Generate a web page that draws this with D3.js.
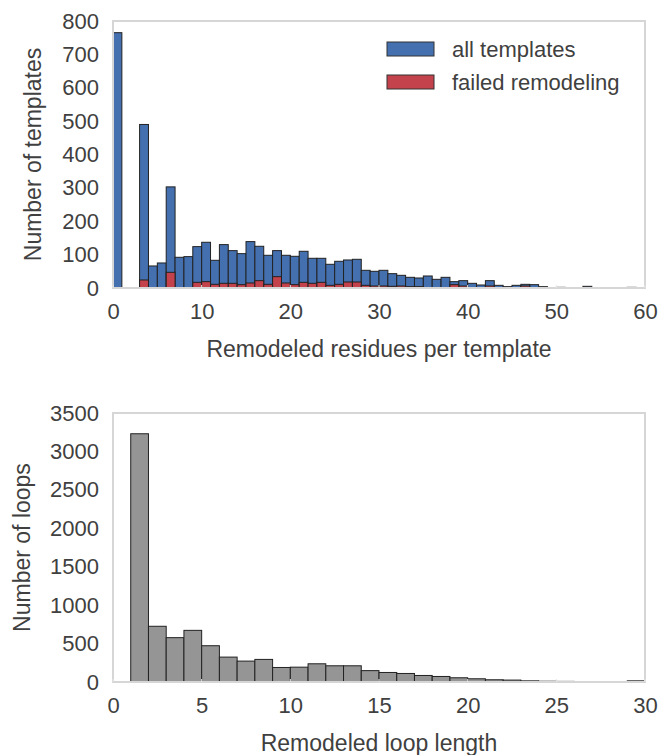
<!DOCTYPE html>
<html>
<head>
<meta charset="utf-8">
<script src="https://cdn.jsdelivr.net/npm/d3@7"></script>
<style>
  html, body { margin: 0; padding: 0; background: #fff; }
  svg { display: block; font-family: "Liberation Sans", Arial, sans-serif; }
</style>
</head>
<body>
<svg id="chart" width="662" height="755"></svg>
<script>
// ---------- Data ----------
// Top panel: bins of width 1 starting at 0 (residues per template)
const residueBins = d3.range(0, 60);
const allTemplates = [
  765, 0, 0, 490, 66, 75, 303, 92, 94, 124,
  137, 83, 130, 112, 103, 139, 125, 98, 112, 98,
  95, 110, 89, 89, 71, 80, 84, 86, 53, 50,
  53, 43, 38, 32, 30, 36, 26, 32, 19, 22,
  14, 9, 22, 8, 4, 8, 11, 10, 4, 0,
  2, 0, 1, 5, 0, 1, 1, 0, 2, 0
];
const failedRemodeling = [
  0, 0, 0, 24, 0, 0, 47, 0, 0, 17,
  19, 11, 14, 14, 10, 15, 22, 11, 34, 15,
  10, 17, 14, 17, 8, 11, 18, 18, 8, 6,
  6, 5, 6, 4, 4, 0, 0, 0, 10, 6,
  0, 0, 6, 0, 0, 0, 6, 0, 0, 0,
  0, 0, 0, 0, 0, 0, 0, 0, 0, 0
];
const topXTicks = [0, 10, 20, 30, 40, 50, 60];
const topYTicks = [0, 100, 200, 300, 400, 500, 600, 700, 800];

// Bottom panel: loop lengths, bins of width 1 starting at 1
const loopBins = d3.range(1, 30);
const loopCounts = [
  3230, 725, 577, 672, 472, 324, 272, 294, 189, 193,
  237, 211, 211, 148, 124, 111, 85, 72, 55, 42,
  29, 25, 15, 10, 8, 5, 5, 3, 15
];
const bottomXTicks = [0, 5, 10, 15, 20, 25, 30];
const bottomYTicks = [0, 500, 1000, 1500, 2000, 2500, 3000, 3500];

const seriesNames = ["all templates", "failed remodeling"];
const seriesColors = ["#4470b0", "#c4424b"];
const loopColor = "#959595";

// ---------- Layout ----------
const svg = d3.select("#chart");
const plotLeft = 113, plotRight = 645;
const textColor = "#404040";
const frameColor = "#d6d6d6";
const tickFont = 22, labelFont = 23, legendFont = 22;

function drawPanel(opts) {
  const g = svg.append("g");
  const x = d3.scaleLinear().domain(opts.xDomain).range([plotLeft, plotRight]);
  const y = d3.scaleLinear().domain(opts.yDomain).range([opts.bottom, opts.top]);

  opts.series.forEach(s => {
    g.append("g").selectAll("rect")
      .data(s.bins.map((b, i) => ({ b, v: s.values[i] })).filter(d => d.v > 0))
      .join("rect")
      .attr("x", d => x(d.b))
      .attr("width", d => x(d.b + 1) - x(d.b))
      .attr("y", d => y(d.v))
      .attr("height", d => y(0) - y(d.v))
      .attr("fill", s.color)
      .attr("stroke", "#222")
      .attr("stroke-width", 1);
  });

  g.append("rect")
    .attr("x", plotLeft).attr("y", opts.top)
    .attr("width", plotRight - plotLeft).attr("height", opts.bottom - opts.top)
    .attr("fill", "none").attr("stroke", frameColor).attr("stroke-width", 2);

  const xAxis = g.append("g")
    .attr("transform", `translate(0,${opts.bottom})`)
    .call(d3.axisBottom(x).tickValues(opts.xTicks).tickSize(0).tickPadding(15).tickFormat(d3.format("d")));
  xAxis.select(".domain").remove();
  xAxis.selectAll("text").attr("fill", textColor).style("font-size", tickFont + "px")
    .style("font-family", '"Liberation Sans", Arial, sans-serif');

  const yAxis = g.append("g")
    .attr("transform", `translate(${plotLeft},0)`)
    .call(d3.axisLeft(y).tickValues(opts.yTicks).tickSize(0).tickPadding(14).tickFormat(d3.format("d")));
  yAxis.select(".domain").remove();
  yAxis.selectAll("text").attr("fill", textColor).style("font-size", tickFont + "px")
    .style("font-family", '"Liberation Sans", Arial, sans-serif');

  g.append("g").selectAll("line").data(opts.xTicks).join("line")
    .attr("x1", d => x(d)).attr("x2", d => x(d))
    .attr("y1", opts.bottom).attr("y2", opts.bottom - 3)
    .attr("stroke", "#e6e6e6");

  g.append("text")
    .attr("x", (plotLeft + plotRight) / 2)
    .attr("y", opts.bottom + 69)
    .attr("text-anchor", "middle")
    .attr("fill", textColor)
    .style("font-size", labelFont + "px")
    .text(opts.xLabel);
  g.append("text")
    .attr("transform", `translate(${opts.yLabelX},${(opts.top + opts.bottom) / 2}) rotate(-90)`)
    .attr("text-anchor", "middle")
    .attr("fill", textColor)
    .style("font-size", labelFont + "px")
    .text(opts.yLabel);
  return { g, x, y };
}

drawPanel({
  top: 21, bottom: 288,
  xDomain: [0, 60], yDomain: [0, 800],
  xTicks: topXTicks, yTicks: topYTicks,
  series: [
    { bins: residueBins, values: allTemplates, color: seriesColors[0] },
    { bins: residueBins, values: failedRemodeling, color: seriesColors[1] }
  ],
  xLabel: "Remodeled residues per template",
  yLabel: "Number of templates",
  yLabelX: 41
});

drawPanel({
  top: 413, bottom: 682,
  xDomain: [0, 30], yDomain: [0, 3500],
  xTicks: bottomXTicks, yTicks: bottomYTicks,
  series: [{ bins: loopBins, values: loopCounts, color: loopColor }],
  xLabel: "Remodeled loop length",
  yLabel: "Number of loops",
  yLabelX: 30
});

const legend = svg.append("g").attr("transform", "translate(387,42)");
seriesNames.forEach((name, i) => {
  const row = legend.append("g").attr("transform", `translate(0,${i * 33})`);
  row.append("rect").attr("width", 47).attr("height", 14)
    .attr("fill", seriesColors[i]).attr("stroke", "#333").attr("stroke-width", 1);
  row.append("text").attr("x", 65).attr("y", 15)
    .attr("fill", textColor).style("font-size", legendFont + "px").text(name);
});
</script>
</body>
</html>
